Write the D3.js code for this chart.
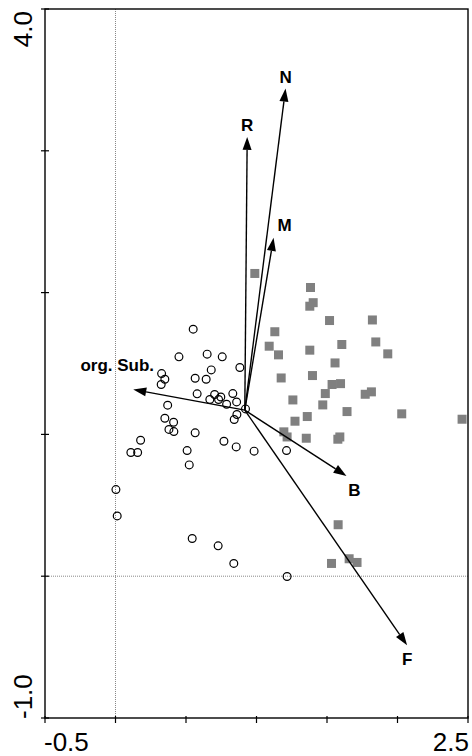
<!DOCTYPE html>
<html lang="en">
  <head>
    <meta charset="UTF-8" />
    <title>Ordination biplot</title>
    <script src="https://d3js.org/d3.v7.min.js"></script>
    <style>
      body { margin: 0; background: #fff; }
      text { font-family: "Liberation Sans", Arial, Helvetica, sans-serif; }
    </style>
  </head>
  <body>
    <div class="chart"></div>
  </body>

  <script>
    // sample scores, group 1 (open circles)
    var circleX = [0.551, 0.450, 0.650, 0.757, 0.882, 0.327, 0.350, 0.324, 0.565, 0.679,
      0.643, 0.579, 0.703, 0.747, 0.832, 0.669, 0.731, 0.788, 0.859, 0.922,
      0.861, 0.842, 0.370, 0.350, 0.412, 0.379, 0.414, 0.565, 0.178, 0.109,
      0.157, 0.508, 0.523, 0.769, 0.856, 0.983, 1.213, 0.003, 0.012, 0.544,
      0.728, 0.839, 1.217];
    var circleY = [1.742, 1.547, 1.566, 1.547, 1.472, 1.429, 1.389, 1.352, 1.396, 1.455,
      1.389, 1.286, 1.281, 1.264, 1.288, 1.246, 1.246, 1.213, 1.229, 1.180,
      1.140, 1.105, 1.206, 1.114, 1.086, 1.035, 1.020, 1.011, 0.959, 0.872,
      0.872, 0.886, 0.785, 0.952, 0.912, 0.882, 0.886, 0.611, 0.425, 0.266,
      0.214, 0.090, -0.002];

    // sample scores, group 2 (grey squares)
    var squareX = [0.988, 1.383, 1.402, 1.378, 1.518, 1.822, 1.130, 1.090, 1.156, 1.378,
      1.605, 1.846, 1.931, 1.557, 1.175, 1.397, 1.536, 1.596, 1.488, 1.771,
      1.815, 1.470, 1.258, 1.642, 2.030, 2.458, 1.360, 1.273, 1.194, 1.217,
      1.353, 1.591, 1.577, 1.579, 1.532, 1.657, 1.713];
    var squareY = [2.135, 2.036, 1.929, 1.904, 1.803, 1.807, 1.724, 1.622, 1.561, 1.594,
      1.634, 1.652, 1.568, 1.504, 1.398, 1.415, 1.352, 1.358, 1.288, 1.283,
      1.300, 1.208, 1.243, 1.161, 1.145, 1.107, 1.126, 1.093, 1.018, 0.982,
      0.973, 0.982, 0.966, 0.363, 0.090, 0.123, 0.097];

    // environmental vectors
    var arrowNames = ["N", "R", "M", "org. Sub.", "B", "F"];
    var arrowOrigin = [0.917, 1.171];
    var arrowX = [1.206, 0.934, 1.121, 0.126, 1.638, 2.068];
    var arrowY = [3.439, 3.098, 2.386, 1.317, 0.707, -0.487];

    // axes
    var xDomain = [-0.5, 2.5];
    var yDomain = [-1.0, 4.0];
    var xTicks = [-0.5, 0, 0.5, 1.0, 1.5, 2.0, 2.5];
    var yTicks = [-1, 0, 1, 2, 3, 4];
    var xTickLabels = ["-0.5", "2.5"];
    var yTickLabels = ["-1.0", "4.0"];

    var width = 472, height = 756;
    var margin = { left: 45, right: 468, top: 9, bottom: 718 };

    var svg = d3.select(".chart").append("svg")
      .attr("width", width)
      .attr("height", height);

    var x = d3.scaleLinear().domain(xDomain).range([margin.left, margin.right]);
    var y = d3.scaleLinear().domain(yDomain).range([margin.bottom, margin.top]);

    // zero lines
    svg.append("line")
      .attr("x1", x(0)).attr("x2", x(0))
      .attr("y1", margin.top).attr("y2", margin.bottom)
      .attr("stroke", "#888").attr("stroke-width", 1)
      .attr("stroke-dasharray", "1,1");
    svg.append("line")
      .attr("x1", margin.left).attr("x2", margin.right)
      .attr("y1", y(0)).attr("y2", y(0))
      .attr("stroke", "#888").attr("stroke-width", 1)
      .attr("stroke-dasharray", "1,1");

    // frame
    svg.append("rect")
      .attr("x", margin.left).attr("y", margin.top)
      .attr("width", margin.right - margin.left)
      .attr("height", margin.bottom - margin.top)
      .attr("fill", "none").attr("stroke", "#000").attr("stroke-width", 1.4);

    // ticks
    svg.selectAll(".xtick").data(xTicks).enter().append("line")
      .attr("x1", function (d) { return x(d); })
      .attr("x2", function (d) { return x(d); })
      .attr("y1", margin.bottom - 2).attr("y2", margin.bottom + 5)
      .attr("stroke", "#000").attr("stroke-width", 1.2);
    svg.selectAll(".ytick").data(yTicks).enter().append("line")
      .attr("x1", margin.left - 4).attr("x2", margin.left + 4)
      .attr("y1", function (d) { return y(d); })
      .attr("y2", function (d) { return y(d); })
      .attr("stroke", "#000").attr("stroke-width", 1.2);

    svg.append("text").text(xTickLabels[0])
      .attr("x", x(xDomain[0]) - 1).attr("y", 751)
      .attr("font-size", 26).attr("text-anchor", "start");
    svg.append("text").text(xTickLabels[1])
      .attr("x", x(xDomain[1]) + 1).attr("y", 751)
      .attr("font-size", 26).attr("text-anchor", "end");
    svg.append("text").text(yTickLabels[0])
      .attr("transform", "translate(32," + (y(yDomain[0]) + 1) + ") rotate(-90)")
      .attr("font-size", 26).attr("text-anchor", "start");
    svg.append("text").text(yTickLabels[1])
      .attr("transform", "translate(32," + (y(yDomain[1]) + 2) + ") rotate(-90)")
      .attr("font-size", 26).attr("text-anchor", "end");

    // samples
    var circles = circleX.map(function (v, i) { return [v, circleY[i]]; });
    var squares = squareX.map(function (v, i) { return [v, squareY[i]]; });

    svg.selectAll(".sq").data(squares).enter().append("rect")
      .attr("x", function (d) { return x(d[0]) - 4.5; })
      .attr("y", function (d) { return y(d[1]) - 4.5; })
      .attr("width", 9).attr("height", 9)
      .attr("fill", "#808080");

    svg.selectAll(".ci").data(circles).enter().append("circle")
      .attr("cx", function (d) { return x(d[0]); })
      .attr("cy", function (d) { return y(d[1]); })
      .attr("r", 3.9)
      .attr("fill", "none").attr("stroke", "#000").attr("stroke-width", 1.2);

    // arrows
    var labelNudge = {
      "N": [0, -6], "R": [0, -6], "M": [11, -7],
      "org. Sub.": [-16, -18], "B": [8, 20], "F": [0, 20]
    };
    var ox = x(arrowOrigin[0]), oy = y(arrowOrigin[1]);
    var headLen = 13, headHalf = 4.5;

    arrowNames.forEach(function (name, i) {
      var tx = x(arrowX[i]), ty = y(arrowY[i]);
      var dx = tx - ox, dy = ty - oy;
      var len = Math.sqrt(dx * dx + dy * dy);
      var ux = dx / len, uy = dy / len;
      var bx = tx - ux * headLen, by = ty - uy * headLen;

      svg.append("line")
        .attr("x1", ox).attr("y1", oy)
        .attr("x2", bx).attr("y2", by)
        .attr("stroke", "#000").attr("stroke-width", 1.4);

      svg.append("path")
        .attr("d", "M" + tx + "," + ty +
          "L" + (bx - uy * headHalf) + "," + (by + ux * headHalf) +
          "L" + (bx + uy * headHalf) + "," + (by - ux * headHalf) + "Z")
        .attr("fill", "#000");

      var n = labelNudge[name];
      svg.append("text").text(name)
        .attr("x", tx + n[0]).attr("y", ty + n[1])
        .attr("text-anchor", "middle")
        .attr("font-size", 17)
        .attr("font-weight", "bold");
    });
  </script>
</html>
